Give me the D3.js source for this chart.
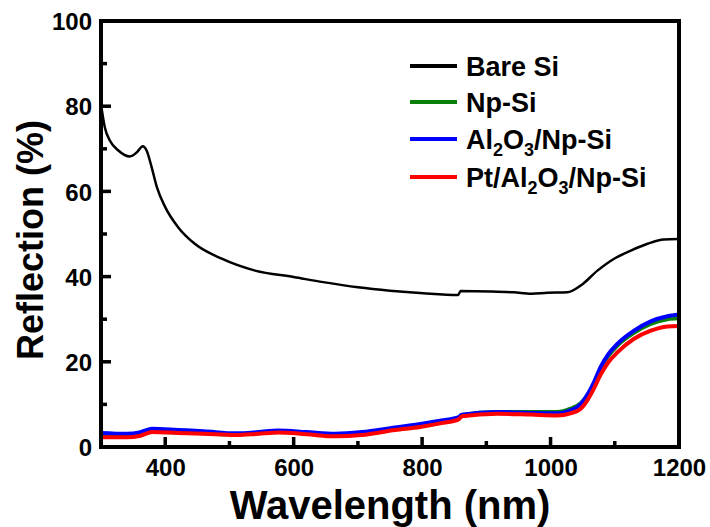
<!DOCTYPE html>
<html>
<head>
<meta charset="utf-8">
<script src="https://cdn.jsdelivr.net/npm/d3@7"></script>
<style>
  body { margin: 0; background: #fff; }
  svg text { font-family: "Liberation Sans", Arial, sans-serif; font-weight: bold; }
</style>
</head>
<body>
<svg width="710" height="527"></svg>
<script>
var svg = d3.select("svg");

// bare Si
var bareWl = [300, 306, 314, 327, 345, 356, 365, 371, 379, 387, 400, 420, 446, 488, 540, 600, 646, 700, 750, 802, 856, 860, 906, 943, 970, 995, 1026, 1047, 1073, 1099, 1125, 1151, 1176, 1200];
var bareSi = [80.5, 75, 71.9, 69.6, 68.2, 69.2, 70.6, 69.6, 65.6, 61, 56.3, 51.6, 47.7, 44.2, 41.4, 39.9, 38.7, 37.5, 36.7, 36.1, 35.7, 36.6, 36.5, 36.3, 36.0, 36.2, 36.3, 37.9, 41.4, 44.2, 46.1, 47.7, 48.7, 48.8];

// nanoporous samples share one wavelength grid
var npWl = [300, 340, 360, 380, 420, 460, 510, 545, 576, 620, 665, 706, 758, 797, 830, 857, 862, 917, 969, 1010, 1031, 1047, 1057, 1067, 1078, 1090, 1104, 1130, 1156, 1182, 1200];
var npSi = [2.5, 2.4, 2.7, 3.6, 3.4, 3.2, 2.9, 3.2, 3.5, 3.1, 2.7, 3.0, 4.2, 5.0, 5.9, 6.8, 7.5, 8.2, 8.2, 8.2, 9.0, 10.3, 12.0, 14.7, 18.4, 21.4, 23.8, 26.8, 28.9, 30.0, 30.2];
var alNpSi = [3.3, 3.1, 3.4, 4.3, 4.0, 3.7, 3.2, 3.5, 3.9, 3.5, 3.1, 3.5, 4.6, 5.4, 6.2, 7.0, 7.6, 8.2, 8.0, 7.9, 8.6, 10.1, 12.2, 15.0, 18.8, 21.8, 24.2, 27.3, 29.5, 30.7, 31.1];
var ptAlNpSi = [2.3, 2.3, 2.6, 3.5, 3.3, 3.1, 2.8, 3.1, 3.4, 3.0, 2.5, 2.8, 4.0, 4.7, 5.6, 6.5, 7.2, 7.8, 7.6, 7.4, 7.9, 9.0, 10.9, 13.6, 17.0, 19.9, 22.2, 25.4, 27.3, 28.3, 28.4];

var xTicks = [400, 600, 800, 1000, 1200];
var xMinorTicks = [500, 700, 900, 1100];
var yTicks = [0, 20, 40, 60, 80, 100];
var yMinorTicks = [10, 30, 50, 70, 90];

var series = [
  {name: "Bare Si", wl: bareWl, val: bareSi, color: "#000000", w: 2.5},
  {name: "Np-Si", wl: npWl, val: npSi, color: "#0a800a", w: 4},
  {name: "Al2O3/Np-Si", wl: npWl, val: alNpSi, color: "#0000ff", w: 4},
  {name: "Pt/Al2O3/Np-Si", wl: npWl, val: ptAlNpSi, color: "#ff0000", w: 4}
];

var plotL = 101, plotR = 679, plotT = 21, plotB = 447;

var x = d3.scaleLinear().domain([300, 1200]).range([plotL, plotR]);
var y = d3.scaleLinear().domain([0, 100]).range([plotB, plotT]);

var line = d3.line()
    .x(function(d) { return x(d[0]); })
    .y(function(d) { return y(d[1]); })
    .curve(d3.curveMonotoneX);

series.forEach(function(s) {
  svg.append("path")
      .datum(d3.zip(s.wl, s.val))
      .attr("fill", "none")
      .attr("stroke", s.color)
      .attr("stroke-width", s.w)
      .attr("stroke-linejoin", "round")
      .attr("d", line);
});

// tick labels from d3 axes
var xAxis = d3.axisBottom(x).tickValues(xTicks).tickSize(0).tickFormat(d3.format("d"));
var yAxis = d3.axisLeft(y).tickValues(yTicks).tickSize(0);

function styleAxis(g) {
  g.attr("font-size", null).attr("font-family", null);
  g.select(".domain").remove();
  g.selectAll(".tick line").remove();
  g.selectAll("text").attr("fill", "#000").style("font-size", "24px");
}

svg.append("g").attr("transform", "translate(0," + plotB + ")").call(xAxis).call(styleAxis)
    .selectAll("text").attr("dy", null).attr("y", 29);
svg.append("g").attr("transform", "translate(" + plotL + ",0)").call(yAxis).call(styleAxis)
    .selectAll("text").attr("x", -9).attr("dy", "0.36em");

// frame drawn as filled bands
var frameW = 4;
var frame = [
  [plotL - frameW / 2, plotT - frameW / 2, plotR - plotL + frameW, frameW],
  [plotL - frameW / 2, plotB - frameW / 2, plotR - plotL + frameW, frameW],
  [plotL - frameW / 2, plotT - frameW / 2, frameW, plotB - plotT + frameW],
  [plotR - frameW / 2, plotT - frameW / 2, frameW, plotB - plotT + frameW]
];
svg.selectAll(".frame").data(frame).enter().append("rect")
    .attr("x", function(d) { return d[0]; }).attr("y", function(d) { return d[1]; })
    .attr("width", function(d) { return d[2]; }).attr("height", function(d) { return d[3]; })
    .attr("fill", "#000");

// inward tick marks as small filled rects
var tickW = 3.5;
function xTickRects(vals, len) {
  return vals.map(function(d) { return [x(d) - tickW / 2, plotB - len, tickW, len]; });
}
function yTickRects(vals, len) {
  return vals.map(function(d) { return [plotL, y(d) - tickW / 2, len, tickW]; });
}
var tickRects = xTickRects(xTicks, 10).concat(xTickRects(xMinorTicks, 6), yTickRects(yTicks, 10), yTickRects(yMinorTicks, 6));
svg.selectAll(".tickmark").data(tickRects).enter().append("rect")
    .attr("x", function(d) { return d[0]; }).attr("y", function(d) { return d[1]; })
    .attr("width", function(d) { return d[2]; }).attr("height", function(d) { return d[3]; })
    .attr("fill", "#000");

// axis titles
svg.append("text")
    .attr("x", (plotL + plotR) / 2).attr("y", 519)
    .attr("text-anchor", "middle")
    .style("font-size", "40px")
    .text("Wavelength (nm)");

svg.append("text")
    .attr("transform", "translate(43,240) rotate(-90)")
    .attr("text-anchor", "middle")
    .style("font-size", "36px")
    .text("Reflection (%)");

// legend
var legendY = [66, 102, 139, 177];
var legendParts = [
  [["Bare Si", 0]],
  [["Np-Si", 0]],
  [["Al", 0], ["2", 1], ["O", 0], ["3", 1], ["/Np-Si", 0]],
  [["Pt/Al", 0], ["2", 1], ["O", 0], ["3", 1], ["/Np-Si", 0]]
];

series.forEach(function(s, i) {
  svg.append("line")
      .attr("x1", 410).attr("x2", 457)
      .attr("y1", legendY[i]).attr("y2", legendY[i])
      .attr("stroke", s.color).attr("stroke-width", 4);
  var t = svg.append("text")
      .attr("x", 466).attr("y", legendY[i] + 10)
      .style("font-size", "27px");
  legendParts[i].forEach(function(p, k) {
    var ts = t.append("tspan").text(p[0]);
    if (p[1]) ts.style("font-size", "18px").attr("dy", 7);
    else if (k > 0) ts.attr("dy", -7);
  });
});
</script>
</body>
</html>
